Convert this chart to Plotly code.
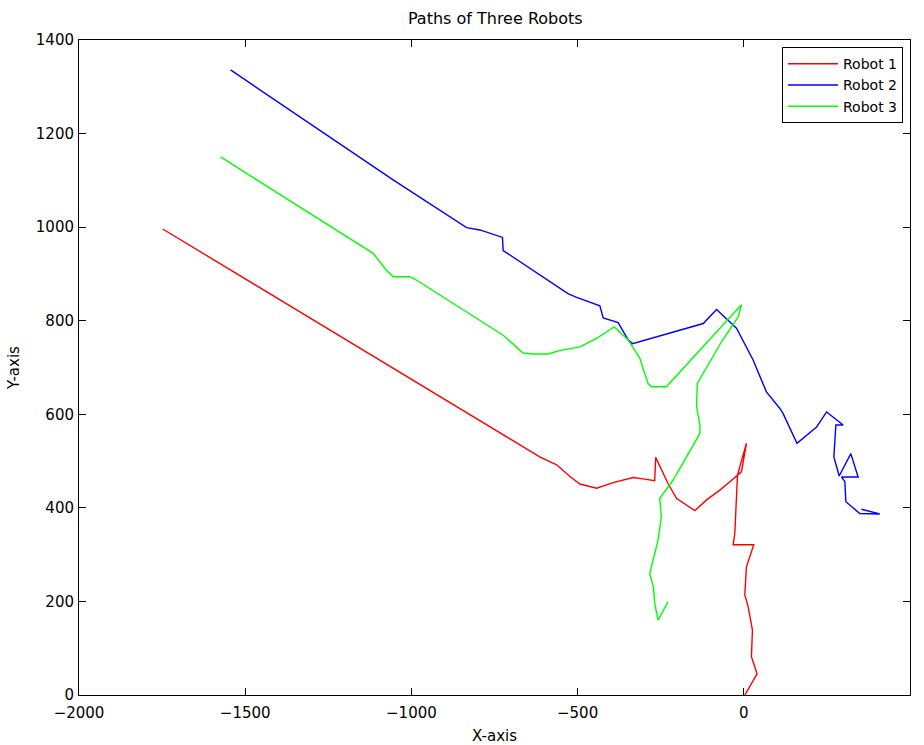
import plotly.graph_objects as go

# Robot 1 (red)
r1_x = [-1748, -614, -563, -523, -493, -443, -393, -333, -303, -268, -265, -228, -202, -147, -112, -72, -42, -7, 8, -19, -22, -27, -32, 30, 8, 3, 13, 26, 23, 40, 3]
r1_y = [996, 509, 492, 467, 451, 442, 454, 465, 462, 458, 508, 452, 420, 394, 417, 438, 456, 477, 538, 470, 424, 346, 321, 321, 274, 214, 189, 139, 82, 45, 0]

# Robot 2 (blue)
r2_x = [-1544, -1055, -834, -794, -726, -724, -529, -503, -433, -423, -378, -348, -335, -122, -82, -22, 28, 68, 108, 118, 160, 219, 249, 289, 299, 277, 271, 287, 322, 344, 294, 304, 307, 349, 409, 354]
r2_y = [1336, 1101, 999, 994, 978, 950, 858, 850, 832, 806, 796, 759, 751, 794, 824, 784, 716, 648, 613, 602, 538, 573, 605, 581, 577, 577, 509, 468, 516, 466, 466, 456, 413, 388, 387, 397]

# Robot 3 (green)
r3_x = [-1574, -1115, -1075, -1055, -1005, -985, -724, -664, -634, -589, -554, -493, -443, -390, -348, -313, -303, -288, -278, -233, -7, -17, -67, -132, -140, -142, -132, -132, -172, -213, -253, -248, -258, -278, -283, -272, -268, -258, -228]
r3_y = [1150, 944, 908, 894, 894, 887, 769, 731, 729, 729, 736, 744, 762, 787, 759, 720, 698, 666, 659, 659, 834, 808, 755, 673, 666, 616, 577, 559, 509, 459, 420, 381, 331, 274, 259, 231, 196, 160, 199]

names = ["Robot 1", "Robot 2", "Robot 3"]
colors = ["#ff0000", "#0000ff", "#00ff00"]

x_ticks = [-2000, -1500, -1000, -500, 0, 500]
y_ticks = [0, 200, 400, 600, 800, 1000, 1200, 1400]

FONT = "DejaVu Sans, Verdana, sans-serif"

fig = go.Figure()
for xs, ys, n, c in zip([r1_x, r2_x, r3_x], [r1_y, r2_y, r3_y], names, colors):
    fig.add_trace(go.Scatter(x=xs, y=ys, mode="lines", name=n,
                             line=dict(color=c, width=1.4)))

axis_common = dict(showgrid=False, zeroline=False, showline=True, linecolor="black",
                   linewidth=1, mirror="ticks", ticks="inside", ticklen=7,
                   tickcolor="black", automargin=False,
                   tickfont=dict(family=FONT, size=15, color="black"))

fig.update_layout(
    width=924, height=745,
    margin=dict(l=79, r=14, t=40, b=50),
    paper_bgcolor="white", plot_bgcolor="white",
    title=dict(text="Paths of Three Robots", x=0.536, xanchor="center", y=0.975, yanchor="middle",
               font=dict(family=FONT, size=16, color="black")),
    xaxis=dict(range=[-2000, 500], tickvals=x_ticks, ticklabelstandoff=4,
               title=dict(text="X-axis", standoff=12, font=dict(family=FONT, size=15, color="black")),
               **axis_common),
    yaxis=dict(range=[0, 1400], tickvals=y_ticks, ticklabelstandoff=1,
               title=dict(text="Y-axis", standoff=12, font=dict(family=FONT, size=15, color="black")),
               **axis_common),
    legend=dict(x=0.9916, y=0.989, xanchor="right", yanchor="top",
                bordercolor="black", borderwidth=1, bgcolor="white",
                font=dict(family=FONT, size=14, color="black"),
                itemwidth=50, tracegroupgap=0),
    showlegend=True,
)

fig.write_html("out.html")
